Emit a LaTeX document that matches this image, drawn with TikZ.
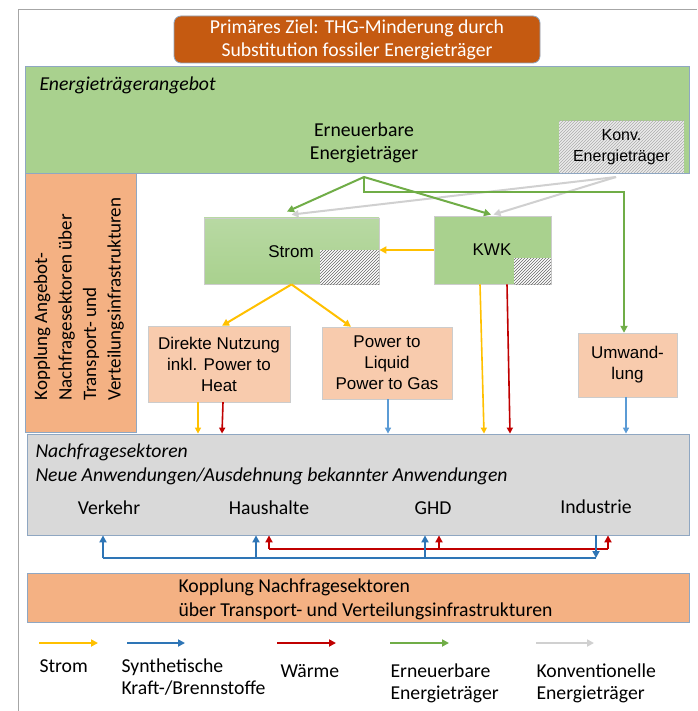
\documentclass[tikz,border=0pt]{standalone}
\usepackage{fontspec}
\setmainfont{Carlito}
\newfontfamily\arialf{Liberation Sans}
\usetikzlibrary{arrows.meta,patterns,shadings,calc}
\definecolor{titlebg}{HTML}{C55A11}
\definecolor{grn}{HTML}{A9D18E}
\definecolor{grnlt}{HTML}{B8D9A3}
\definecolor{orng}{HTML}{F4B183}
\definecolor{lorng}{HTML}{F8CBAD}
\definecolor{gry}{HTML}{D9D9D9}
\definecolor{bord}{HTML}{8FA7C2}
\definecolor{cyel}{HTML}{FFC000}
\definecolor{cblue}{HTML}{2E75B6}
\definecolor{lblue}{HTML}{5B9BD5}
\definecolor{cred}{HTML}{C00000}
\definecolor{cgreen}{HTML}{70AD47}
\definecolor{cgray}{HTML}{D0D0D0}
\tikzset{
  box/.style={draw=bord, line width=0.8pt, inner sep=0pt},
  btxt/.style={font=\fontsize{17}{21}\selectfont\arialf, align=center},
  ctxt/.style={font=\fontsize{19.7}{23}\selectfont, align=center},
  arr/.style={line width=2pt, -{Triangle[length=7pt,width=7pt]}},
  tarr/.style={line width=1.6pt, -{Triangle[length=6pt,width=6pt]}},
}
\begin{document}
\begin{tikzpicture}[x=1pt,y=-1pt]
\useasboundingbox (0,0) rectangle (697,711);
\fill[white] (0,0) rectangle (697,711);
% outer frame
\draw[gray!70, line width=0.8pt] (18,711) -- (18,9) -- (697,9);

% title
\node[box, fill=titlebg, rounded corners=7pt, minimum width=366pt, minimum height=47pt, text=white, ctxt] (title) at (357,39.5)
  {Primäres Ziel: THG-Minderung durch\\Substitution fossiler Energieträger};

% supply
\node[box, fill=grn, minimum width=664pt, minimum height=107pt] (angebot) at (357,119.5) {};
\node[anchor=west, font=\fontsize{19.7}{23}\selectfont\itshape] (angebottxt) at (36,85) {Energieträgerangebot};
\node[ctxt] (erneu) at (364,143) {Erneuerbare\\Energieträger};
\fill[white!85!gray] (559,121) rectangle (684,173);
\node[minimum width=125pt, minimum height=52pt, inner sep=0pt, pattern=north east lines, pattern color=gray!65, btxt, font=\fontsize{16}{21}\selectfont\arialf] (konv) at (621.5,147) {Konv.\\Energieträger};

% left coupling box
\node[box, fill=orng, minimum width=111pt, minimum height=259pt] (links) at (80.5,302.5) {};
\node[rotate=90, anchor=west, align=left, font=\fontsize{19}{24.5}\selectfont] (linkstxt) at (79,404)
  {Kopplung Angebot-\\Nachfragesektoren über\\Transport- und\\Verteilungsinfrastrukturen};

% Strom
\node[draw=gray!40, line width=0.8pt, top color=grnlt, bottom color=grn, minimum width=175pt, minimum height=66pt, inner sep=0pt] (strom) at (291.5,251) {};
\fill[white] (320,250) rectangle (379,284);
\path[pattern=north east lines, pattern color=gray!80!black] (320,250) rectangle (379,284);
\node[btxt] (stromtxt) at (291,252) {Strom};

% KWK
\node[draw=gray!40, line width=0.8pt, fill=grn, minimum width=117pt, minimum height=68pt, inner sep=0pt] (kwk) at (492.5,250) {};
\fill[white] (514,258) rectangle (551,284);
\path[pattern=north east lines, pattern color=gray!80!black] (514,258) rectangle (551,284);
\node[btxt] (kwktxt) at (492,250) {KWK};

% conversion boxes
\node[draw=gray!40, fill=lorng, minimum width=142pt, minimum height=76pt, inner sep=0pt, btxt] (direkt) at (219,364) {Direkte Nutzung\\inkl. Power to\\Heat};
\node[draw=gray!40, fill=lorng, minimum width=130pt, minimum height=72pt, inner sep=0pt, btxt] (ptx) at (387,363) {Power to\\Liquid\\Power to Gas};
\node[draw=gray!40, fill=lorng, minimum width=99pt, minimum height=64pt, inner sep=0pt, btxt] (umw) at (627.5,365) {Umwand-\\lung};

% demand
\node[box, fill=gry, minimum width=662pt, minimum height=101pt] (nachfrage) at (358,484.5) {};
\node[anchor=west, font=\fontsize{19.7}{23}\selectfont\itshape] (nf1) at (32,452) {Nachfragesektoren};
\node[anchor=west, font=\fontsize{19.7}{23}\selectfont\itshape] (nf2) at (32,476) {Neue Anwendungen/Ausdehnung bekannter Anwendungen};
\node[ctxt] (verkehr) at (109,508) {Verkehr};
\node[ctxt] (haushalte) at (269,508) {Haushalte};
\node[ctxt] (ghd) at (433,508) {GHD};
\node[ctxt] (industrie) at (596,507) {Industrie};

% bottom coupling
\node[box, fill=orng, minimum width=662pt, minimum height=49pt] (kopplung) at (358,597.5) {};
\node[anchor=west, align=left, font=\fontsize{19.7}{24}\selectfont] (koptxt) at (175,599)
  {Kopplung Nachfragesektoren\\über Transport- und Verteilungsinfrastrukturen};

% supply arrows
\coordinate (src) at (364,177);
\coordinate (ksrc) at (616,177);
\draw[arr, cgray] (ksrc) -- ([yshift=3pt]strom.north);
\draw[arr, cgray] (ksrc) -- ([xshift=1pt,yshift=1pt]kwk.north);
\draw[arr, cgreen] (src) -- ([xshift=-4.5pt,yshift=6pt]strom.north);
\draw[arr, cgreen] (src) -- ([xshift=-1.5pt,yshift=1pt]kwk.north);
\draw[arr, cgreen] (src) -- ++(0,15) -| ([xshift=-3.5pt]umw.north);

% Strom arrows
\draw[arr, cyel] (kwk.west) -- (kwk.west -| strom.east);
\draw[arr, cyel] (strom.south) -- ([xshift=3pt]direkt.north);
\draw[arr, cyel] (strom.south) -- ([xshift=-36pt]ptx.north);

% into demand
\draw[tarr, cyel] ([xshift=-21pt]direkt.south) -- ([xshift=-21pt]direkt.south |- nachfrage.north);
\draw[tarr, cred] ([xshift=4pt]direkt.south) -- ([xshift=3pt]direkt.south |- nachfrage.north);
\draw[tarr, lblue] ([xshift=1pt]ptx.south) -- ([xshift=1pt]ptx.south |- nachfrage.north);
\draw[tarr, cyel] ([xshift=-12.5pt]kwk.south) -- ([xshift=-8.5pt]kwk.south |- nachfrage.north);
\draw[tarr, cred] ([xshift=14.5pt]kwk.south) -- ([xshift=17.5pt]kwk.south |- nachfrage.north);
\draw[tarr, lblue] ([xshift=-1.5pt]umw.south) -- ([xshift=-1.5pt]umw.south |- nachfrage.north);

% demand coupling network
\coordinate (b1) at (103,558);
\coordinate (b2) at (256,558);
\coordinate (b3) at (425,558);
\coordinate (b4) at (596,558);
\coordinate (r1) at (269,549);
\coordinate (r2) at (439,549);
\coordinate (r3) at (608,549);
\draw[line width=2pt, cred] (r1) -- (r3);
\draw[arr, cred] (r1) -- (r1 |- nachfrage.south);
\draw[arr, cred] (r2) -- (r2 |- nachfrage.south);
\draw[arr, cred] (r3) -- (r3 |- nachfrage.south);
\draw[line width=2pt, cblue] (b1) -- (b4);
\draw[arr, cblue] (b1) -- (b1 |- nachfrage.south);
\draw[arr, cblue] (b2) -- (b2 |- nachfrage.south);
\draw[arr, cblue] (b3) -- (b3 |- nachfrage.south);
\draw[arr, cblue] (b4 |- nachfrage.south) -- (b4);

% legend
\coordinate (l1a) at (39,643); \coordinate (l1b) at (98,643);
\coordinate (l2a) at (127,643); \coordinate (l2b) at (185,643);
\coordinate (l3a) at (277,643); \coordinate (l3b) at (336,643);
\coordinate (l4a) at (390,643); \coordinate (l4b) at (449,643);
\coordinate (l5a) at (536,643); \coordinate (l5b) at (594,643);
\draw[arr, cyel] (l1a) -- (l1b);
\draw[arr, cblue] (l2a) -- (l2b);
\draw[arr, cred] (l3a) -- (l3b);
\draw[arr, cgreen] (l4a) -- (l4b);
\draw[arr, cgray] (l5a) -- (l5b);
\node[anchor=west, font=\fontsize{19.7}{22}\selectfont] (lg1) at (36,666) {Strom};
\node[anchor=north west, align=left, font=\fontsize{19.7}{22}\selectfont] (lg2) at (118,655) {Synthetische\\Kraft-/Brennstoffe};
\node[anchor=west, font=\fontsize{19.7}{22}\selectfont] (lg3) at (277,671) {Wärme};
\node[anchor=north west, align=left, font=\fontsize{19.7}{22}\selectfont] (lg4) at (387,660) {Erneuerbare\\Energieträger};
\node[anchor=north west, align=left, font=\fontsize{19.7}{22}\selectfont] (lg5) at (533,660) {Konventionelle\\Energieträger};
\end{tikzpicture}
\end{document}
